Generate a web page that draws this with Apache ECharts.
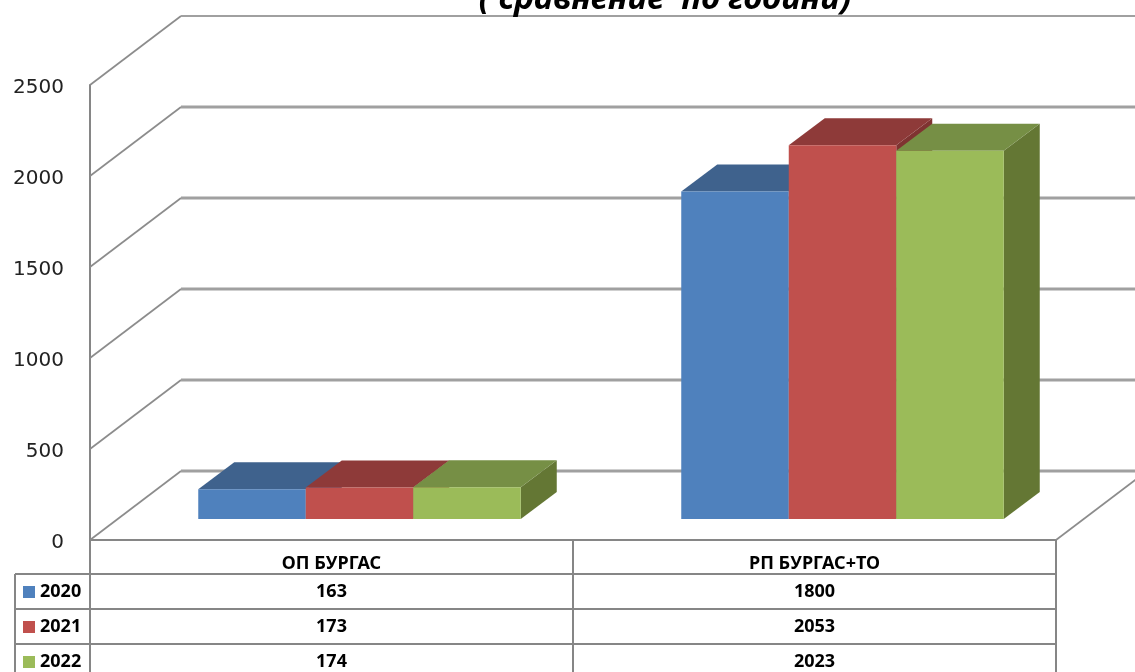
<!DOCTYPE html>
<html>
<head>
<meta charset="utf-8">
<style>html,body{margin:0;padding:0;background:#fff;overflow:hidden}#c{width:1135px;height:672px}</style>
<script src="https://cdn.jsdelivr.net/npm/echarts@6/dist/echarts.min.js"></script>
</head>
<body>
<div id="c"></div>
<script>
var categories = ['ОП БУРГАС', 'РП БУРГАС+ТО'];
var years = ['2020', '2021', '2022'];
var values2020 = [163, 1800];
var values2021 = [173, 2053];
var values2022 = [174, 2023];
var yTicks = [0, 500, 1000, 1500, 2000, 2500];
var titleText = '( сравнение  по години)';

var allValues = [values2020, values2021, values2022];
var frontColors = ['#4F81BD', '#C0504D', '#9BBB59'];
var topColors = ['#3F628D', '#8E3A39', '#768F45'];
var sideColors = ['#385D8A', '#7F3331', '#647734'];

var GRID = {left: 90, right: 79, top: 85, bottom: 132};
var WALL_DX = 91, WALL_DY = -69;
var BAR_DX = 28, BAR_DY = -21;
var DEPTH_DX = 36, DEPTH_DY = -27;
var BAR_W = 107.5;
var TABLE_LINE = '#868686';

var chart = echarts.init(document.getElementById('c'), null, {renderer: 'canvas'});

function wallItem(params, api) {
  var y = api.coord([0, api.value(1)])[1];
  var cs = params.coordSys;
  var x0 = cs.x, bx = x0 + WALL_DX, by = y + WALL_DY;
  var children = [
    {type: 'line', shape: {x1: x0, y1: y, x2: bx, y2: by},
      style: {stroke: '#8C8C8C', lineWidth: 1.7}},
    {type: 'line', shape: {x1: bx, y1: by, x2: api.getWidth(), y2: by},
      style: {stroke: '#A0A0A0', lineWidth: api.value(1) === 2500 ? 2 : 3}}
  ];
  if (api.value(1) === 0) {
    var xr = cs.x + cs.width;
    children.push({type: 'line', shape: {x1: xr, y1: y, x2: xr + WALL_DX, y2: by},
      style: {stroke: '#8C8C8C', lineWidth: 1.7}});
  }
  return {type: 'group', children: children};
}

function barItemFor(idx) {
  return function (params, api) {
    var base = api.coord([api.value(0), 0]);
    var top = api.coord([api.value(0), api.value(1)]);
    var xl = base[0] + (idx - 1.5) * BAR_W + BAR_DX;
    var xr = xl + BAR_W;
    var yb = base[1] + BAR_DY;
    var yt = top[1] + BAR_DY;
    return {
      type: 'group',
      children: [
        {type: 'polygon', shape: {points: [[xr, yb], [xr + DEPTH_DX, yb + DEPTH_DY], [xr + DEPTH_DX, yt + DEPTH_DY], [xr, yt]]},
          style: {fill: sideColors[idx]}},
        {type: 'polygon', shape: {points: [[xl, yt], [xl + DEPTH_DX, yt + DEPTH_DY], [xr + DEPTH_DX, yt + DEPTH_DY], [xr, yt]]},
          style: {fill: topColors[idx]}},
        {type: 'rect', shape: {x: xl, y: yt, width: BAR_W, height: yb - yt},
          style: {fill: frontColors[idx]}}
      ]
    };
  };
}

var series = [{
  type: 'custom',
  name: 'walls',
  renderItem: wallItem,
  encode: {x: 0, y: 1},
  clip: false,
  silent: true,
  z: 1,
  data: yTicks.map(function (t) { return [0, t]; })
}];
years.forEach(function (yr, i) {
  series.push({
    type: 'custom',
    name: yr,
    renderItem: barItemFor(i),
    encode: {x: 0, y: 1},
    clip: false,
    itemStyle: {color: frontColors[i]},
    z: 2 + i,
    data: allValues[i].map(function (v, c) { return [c, v]; })
  });
});

// data table
var X0 = GRID.left, XR = 1135 - GRID.right, XM = (X0 + XR) / 2, XL = 15;
var rowLines = [574, 609, 644];
var rowCenters = [592, 627, 662];
var graphics = [];
function tline(x1, y1, x2, y2) {
  graphics.push({type: 'line', shape: {x1: x1, y1: y1, x2: x2, y2: y2}, z: 10,
    style: {stroke: TABLE_LINE, lineWidth: 2}});
}
rowLines.forEach(function (y) { tline(XL, y, XR, y); });
tline(X0, 540, X0, 672);
tline(XM, 540, XM, 672);
tline(XR, 540, XR, 672);
tline(XL, 574, XL, 672);
var cellFont = 'bold 18px "Noto Sans"';
function ttext(x, y, s, align) {
  graphics.push({type: 'text', x: x, y: y, z: 11,
    style: {text: String(s), font: cellFont, fill: '#000', align: align || 'center', verticalAlign: 'middle'}});
}
allValues.forEach(function (vals, r) {
  vals.forEach(function (v, c) {
    ttext(X0 + (c + 0.5) * (XM - X0), rowCenters[r], v);
  });
  graphics.push({type: 'rect', shape: {x: 23, y: rowCenters[r] - 6, width: 12, height: 12}, z: 11,
    style: {fill: frontColors[r]}});
  ttext(40, rowCenters[r], years[r], 'left');
});

chart.setOption({
  animation: false,
  backgroundColor: '#fff',
  title: {
    text: titleText, left: 660, top: -22, textAlign: 'center',
    textStyle: {fontFamily: 'Noto Sans', fontSize: 33, fontWeight: 'bold', fontStyle: 'italic', color: '#000'}
  },
  grid: GRID,
  xAxis: {
    type: 'category', data: categories,
    axisLine: {show: true, lineStyle: {color: TABLE_LINE, width: 2}},
    axisTick: {show: false},
    axisLabel: {margin: 15, fontFamily: 'Noto Sans', fontSize: 18, fontWeight: 'bold', color: '#000'}
  },
  yAxis: {
    type: 'value', min: 0, max: 2500, interval: 500,
    axisLine: {show: true, lineStyle: {color: TABLE_LINE, width: 2}},
    axisTick: {show: false},
    splitLine: {show: false},
    axisLabel: {margin: 26, fontFamily: 'DejaVu Sans', fontSize: 20, color: '#222', verticalAlign: 'top', lineHeight: 6,
      formatter: function (v) { return String(v); }}
  },
  graphic: graphics,
  series: series
});
</script>
</body>
</html>
